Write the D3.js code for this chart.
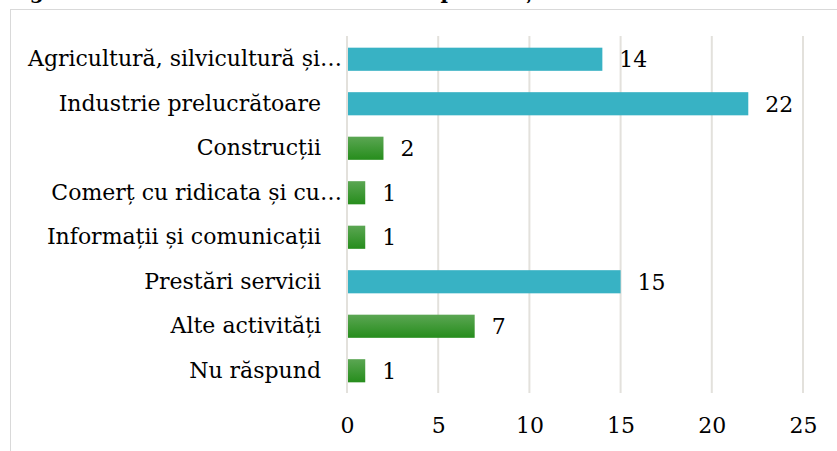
<!DOCTYPE html>
<html>
<head>
<meta charset="utf-8">
<script src="https://cdn.jsdelivr.net/npm/d3@7"></script>
<style>
  body { margin: 0; background: #fff; }
  text { font-family: "DejaVu Serif", serif; fill: #000; }
</style>
</head>
<body>
<div id="chart"></div>
<script>
// chart data
const categories = ["Agricultură, silvicultură și…", "Industrie prelucrătoare", "Construcții",
                    "Comerț cu ridicata și cu…", "Informații și comunicații", "Prestări servicii",
                    "Alte activități", "Nu răspund"];
const values = [14, 22, 2, 1, 1, 15, 7, 1];
const highlight = [true, true, false, false, false, true, false, false];
const xTicks = [0, 5, 10, 15, 20, 25];

const width = 837, height = 451;
const margin = {left: 347, right: 34, top: 37, bottom: 58};

const svg = d3.select("#chart").append("svg")
    .attr("width", width).attr("height", height);

// gradient for the green bars
const grad = svg.append("defs").append("linearGradient")
    .attr("id", "green").attr("x1", 0).attr("y1", 0).attr("x2", 0).attr("y2", 1);
grad.append("stop").attr("offset", "0%").attr("stop-color", "#5ba653");
grad.append("stop").attr("offset", "100%").attr("stop-color", "#268d1c");

// title, cut off by the top edge like in the source
svg.append("text").attr("x", 8).attr("y", -1)
    .style("font-weight", "bold").style("font-size", "20px")
    .text("Figura 4. Domeniul de activitate al respondenților");

// chart border
svg.append("rect").attr("x", 10.5).attr("y", 9.5)
    .attr("width", 840).attr("height", 460)
    .attr("fill", "#fff").attr("stroke", "#d9d9d9");

const x = d3.scaleLinear().domain([0, 25])
    .range([margin.left, width - margin.right]);
const y = d3.scaleBand().domain(categories)
    .range([margin.top, height - margin.bottom]).paddingInner(0.48).paddingOuter(0.24);

// gridlines
svg.append("g").selectAll("line").data(xTicks).enter().append("line")
    .attr("x1", d => x(d)).attr("x2", d => x(d))
    .attr("y1", margin.top - 1).attr("y2", height - margin.bottom)
    .attr("stroke", "#e3e1dc").attr("stroke-width", 2);

// bars
svg.append("g").selectAll("rect").data(categories).enter().append("rect")
    .attr("x", x(0) + 1)
    .attr("y", d => y(d))
    .attr("width", (d, i) => x(values[i]) - x(0) - 1)
    .attr("height", y.bandwidth())
    .attr("fill", (d, i) => highlight[i] ? "#38b2c4" : "url(#green)");

// value labels
svg.append("g").selectAll("text").data(categories).enter().append("text")
    .attr("x", (d, i) => x(values[i]) + 17)
    .attr("y", d => y(d) + y.bandwidth() / 2)
    .attr("dy", "0.36em")
    .style("font-size", "22px")
    .text((d, i) => values[i]);

// category axis
const yAxis = svg.append("g")
    .attr("transform", "translate(" + margin.left + ",0)")
    .call(d3.axisLeft(y).tickSize(0).tickPadding(26));
yAxis.select(".domain").remove();
yAxis.selectAll("text")
    .style("font-size", "22px")
    .attr("dx", d => d.endsWith("…") ? 21 : 0);

// value axis
const xAxis = svg.append("g")
    .attr("transform", "translate(0," + (height - margin.bottom) + ")")
    .call(d3.axisBottom(x).tickValues(xTicks).tickSize(0).tickPadding(24));
xAxis.select(".domain").remove();
xAxis.selectAll("text").style("font-size", "22px");
</script>
</body>
</html>
